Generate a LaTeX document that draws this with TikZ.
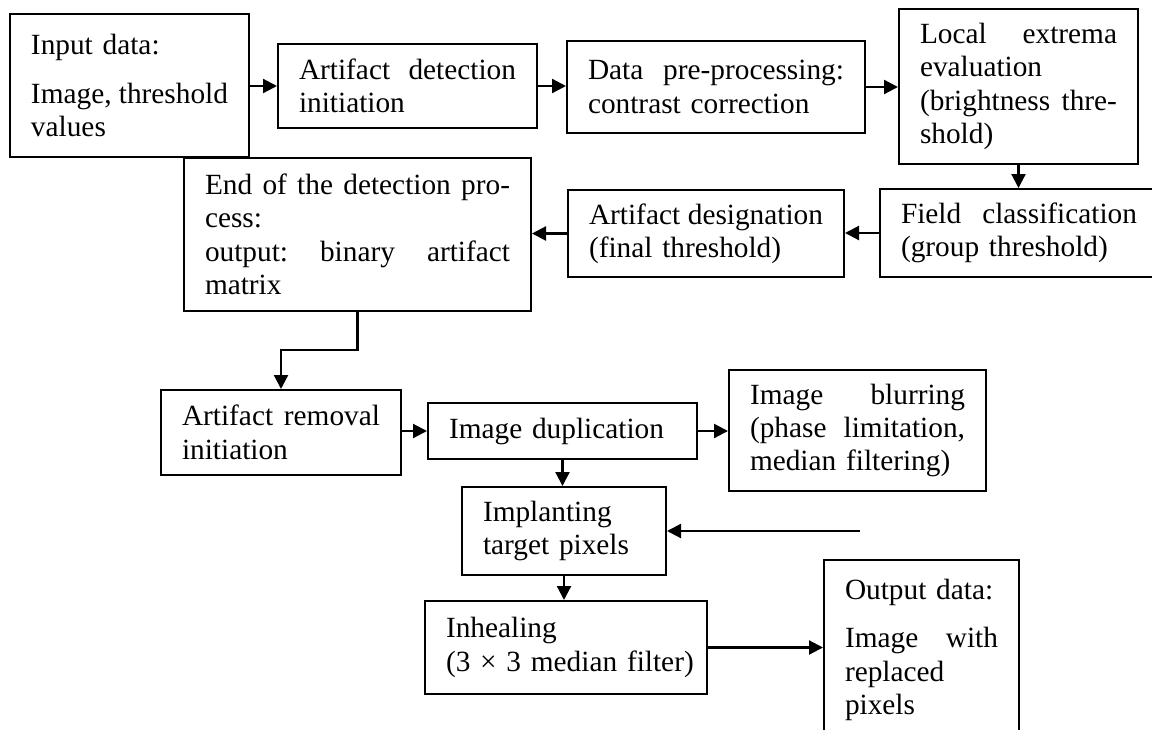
\documentclass[tikz,border=0pt]{standalone}
\usepackage{fontspec}
\setmainfont{Liberation Serif}
\usetikzlibrary{arrows.meta}
\setlength{\parindent}{0pt}
% a line spread to a given width: words are separated by \hfill
\newcommand{\jl}[2]{\leavevmode\hbox to #1{#2}}
\begin{document}
\begin{tikzpicture}[x=0.5pt,y=-0.5pt,
  blk/.style={draw, line width=1pt, rectangle, inner xsep=10.5pt, inner ysep=2pt,
    align=left, font=\fontsize{14.66pt}{16.7pt}\selectfont},
  arr/.style={-{Triangle[length=7pt,width=7pt]}, line width=1.1pt}]
\fill[white] (0,0) rectangle (1152,729);
\useasboundingbox (0,0) rectangle (1152,729);

% detection chain
\node[blk, text width=98.5pt, minimum height=71.5pt] (in) at (129.5,85.5)
  {Input data:\\[7.5pt]\jl{98.5pt}{Image,\hfill threshold}\\values};
\node[blk, text width=108.5pt, minimum height=42pt] (adi) at (407.5,86)
  {\jl{108.5pt}{Artifact\hfill detection}\\initiation};
\node[blk, text width=128pt, minimum height=46pt] (pre) at (716,87)
  {\jl{128pt}{Data\hfill pre-processing:}\\contrast correction};
\node[blk, text width=98.5pt, minimum height=77.5pt] (loc) at (1018.5,86.5)
  {\jl{98.5pt}{Local\hfill extrema}\\evaluation\\\jl{98.5pt}{(brightness\hfill thre-}\\shold)};
\node[blk, text width=118pt, minimum height=44pt] (fld) at (1019,233)
  {\jl{118pt}{Field\hfill classification}\\(group threshold)};
\node[blk, text width=117pt, minimum height=43.5pt] (des) at (706,233.5)
  {\jl{117pt}{Artifact\hfill designation}\\(final threshold)};
\node[blk, text width=152.5pt, minimum height=76.5pt] (end) at (357.5,234.5)
  {\jl{152.5pt}{End\hfill of\hfill the\hfill detection\hfill pro-}\\cess:\\
   \jl{152.5pt}{output:\hfill binary\hfill artifact}\\matrix};

% removal chain
\node[blk, text width=99pt, minimum height=42.5pt] (rmi) at (281,432.5)
  {\jl{99pt}{Artifact\hfill removal}\\initiation};
\node[blk, text width=113.5pt, minimum height=28pt] (dup) at (562.5,431)
  {Image duplication};
\node[blk, text width=107.5pt, minimum height=60.5pt] (blur) at (857.5,430.5)
  {\jl{107.5pt}{Image\hfill blurring}\\\jl{107.5pt}{(phase\hfill limitation,}\\median filtering)};
\node[blk, text width=81pt, minimum height=44pt] (imp) at (564,531)
  {Implanting\\target pixels};
\node[blk, text width=120pt, minimum height=46.5pt] (inh) at (566,647.5)
  {Inhealing\\\mbox{(3 × 3 median filter)}};
\node[blk, text width=76.5pt, minimum height=90pt] (out) at (921.5,650)
  {Output data:\\[7.5pt]\jl{76.5pt}{Image\hfill with}\\replaced\\pixels};

\coordinate (feed) at (860,531);

% connectors
\draw[arr] (in.east |- adi.west) -- (adi.west);
\draw[arr] (adi.east) -- (adi.east -| pre.west);
\draw[arr] (pre.east) -- (pre.east -| loc.west);
\draw[arr] (loc.south) -- (loc.south |- fld.north);
\draw[arr] (fld.west) -- (fld.west -| des.east);
\draw[arr] (des.west) -- (des.west -| end.east);
\draw[arr] (end.south) -- ++(0,38) -| (rmi.north);
\draw[arr] (dup.west -| rmi.east) -- (dup.west);
\draw[arr] (dup.east) -- (dup.east -| blur.west);
\draw[arr] (dup.south) -- (dup.south |- imp.north);
\draw[arr] (feed) -- (imp.east);
\draw[arr] (imp.south) -- (imp.south |- inh.north);
\draw[arr] (inh.east) -- (inh.east -| out.west);
\end{tikzpicture}
\end{document}
